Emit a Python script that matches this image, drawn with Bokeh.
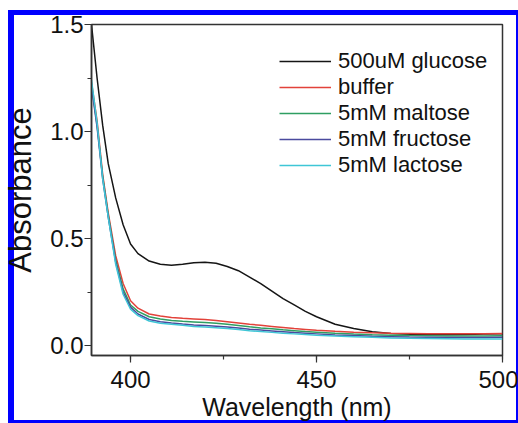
from bokeh.plotting import figure
from bokeh.models import SingleIntervalTicker, Range1d, CustomJSTickFormatter
from bokeh.embed import file_html
from bokeh.resources import INLINE

wavelength = [389.5, 391, 392.5, 394, 396, 398, 400, 402, 405, 408, 411, 414, 417, 420, 423, 426,
              429, 432, 435, 438, 441, 444, 447, 450, 455, 460, 465, 470, 475, 480, 485, 490, 495, 500]

glucose_500uM = [1.50, 1.25, 1.03, 0.85, 0.69, 0.565, 0.475, 0.43, 0.395, 0.38, 0.375, 0.38, 0.387, 0.39,
                 0.385, 0.37, 0.35, 0.32, 0.29, 0.255, 0.22, 0.19, 0.16, 0.135, 0.10, 0.08, 0.065,
                 0.057, 0.053, 0.051, 0.051, 0.052, 0.054, 0.056]
buffer = [1.23, 1.05, 0.80, 0.62, 0.42, 0.29, 0.21, 0.175, 0.148, 0.138, 0.132, 0.128, 0.125, 0.122,
          0.118, 0.112, 0.106, 0.10, 0.095, 0.09, 0.085, 0.08, 0.076, 0.072, 0.067, 0.063, 0.06,
          0.058, 0.057, 0.056, 0.056, 0.056, 0.056, 0.057]
maltose_5mM = [1.22, 1.03, 0.79, 0.61, 0.40, 0.265, 0.19, 0.16, 0.135, 0.124, 0.118, 0.114, 0.111,
               0.108, 0.105, 0.10, 0.094, 0.088, 0.083, 0.079, 0.074, 0.07, 0.066, 0.063, 0.058,
               0.054, 0.051, 0.049, 0.047, 0.046, 0.045, 0.045, 0.045, 0.046]
fructose_5mM = [1.21, 1.02, 0.78, 0.60, 0.39, 0.25, 0.18, 0.148, 0.122, 0.112, 0.106, 0.101, 0.097,
                0.094, 0.091, 0.087, 0.082, 0.077, 0.073, 0.069, 0.065, 0.061, 0.058, 0.055, 0.05,
                0.047, 0.044, 0.042, 0.04, 0.039, 0.038, 0.038, 0.038, 0.039]
lactose_5mM = [1.24, 1.04, 0.78, 0.60, 0.38, 0.24, 0.17, 0.14, 0.115, 0.105, 0.10, 0.095, 0.09,
               0.087, 0.084, 0.08, 0.075, 0.07, 0.066, 0.062, 0.058, 0.055, 0.052, 0.049, 0.045,
               0.042, 0.039, 0.036, 0.034, 0.033, 0.032, 0.031, 0.031, 0.031]

series_names = ["500uM glucose", "buffer", "5mM maltose", "5mM fructose", "5mM lactose"]
series_values = [glucose_500uM, buffer, maltose_5mM, fructose_5mM, lactose_5mM]
series_colors = ["#151515", "#e2423a", "#2e9e62", "#4a4a9e", "#3fc6d6"]

FONT = "Liberation Sans"

p = figure(width=518, height=423, output_backend="svg", toolbar_location=None,
           x_range=Range1d(389.5, 500), y_range=Range1d(-0.046, 1.5),
           min_border_left=90, min_border_right=16, min_border_top=24, min_border_bottom=66)

p.background_fill_color = "white"
p.border_fill_alpha = 0
p.outline_line_color = "#333333"
p.outline_line_width = 1.5
p.xgrid.visible = False
p.ygrid.visible = False

# blue picture border drawn behind the (transparent) canvas border area
blue = "linear-gradient(#0000ff, #0000ff)"
p.styles = {
    "background-color": "white",
    "background-image": ", ".join([blue] * 4),
    "background-size": "6px 413px, 510px 5px, 2px 413px, 510px 3px",
    "background-position": "8px 10px, 8px 10px, 516px 10px, 8px 420px",
    "background-repeat": "no-repeat",
}

for name, vals, col in zip(series_names, series_values, series_colors):
    p.line(wavelength, vals, line_color=col, line_width=1.5, legend_label=name)

p.xaxis.ticker = SingleIntervalTicker(interval=50, num_minor_ticks=2)
p.yaxis.ticker = SingleIntervalTicker(interval=0.5, num_minor_ticks=2)
p.yaxis.formatter = CustomJSTickFormatter(code="return tick.toFixed(1);")

for ax in (p.xaxis[0], p.yaxis[0]):
    ax.axis_line_color = "#333333"
    ax.axis_line_width = 1.5
    ax.major_tick_line_color = "#333333"
    ax.minor_tick_line_color = "#333333"
    ax.major_tick_line_width = 1.2
    ax.minor_tick_line_width = 1.2
    ax.major_tick_in = 0
    ax.major_tick_out = 7
    ax.minor_tick_in = 0
    ax.minor_tick_out = 4
    ax.major_label_text_font = FONT
    ax.major_label_text_font_size = "24px"
    ax.major_label_text_color = "#111111"
    ax.axis_label_text_font = FONT
    ax.axis_label_text_font_style = "normal"
    ax.axis_label_text_color = "#111111"

p.xaxis.axis_label = "Wavelength (nm)"
p.xaxis.axis_label_text_font_size = "25px"
p.xaxis.major_label_standoff = 8
p.xaxis.axis_label_standoff = 2
p.yaxis.axis_label = "Absorbance"
p.yaxis.axis_label_text_font_size = "31px"
p.yaxis.major_label_standoff = 1
p.yaxis.axis_label_standoff = 9

lg = p.legend[0]
lg.location = (188, 177)
lg.border_line_color = None
lg.background_fill_alpha = 0
lg.label_text_font = FONT
lg.label_text_font_size = "22px"
lg.label_text_color = "#111111"
lg.glyph_width = 52
lg.glyph_height = 26
lg.label_height = 26
lg.label_standoff = 7
lg.spacing = 0
lg.padding = 0
lg.margin = 0

open("out.html", "w").write(file_html(p, INLINE))
